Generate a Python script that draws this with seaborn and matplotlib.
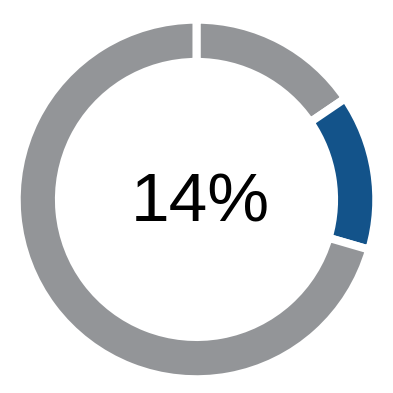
import matplotlib
matplotlib.use("Agg")
import matplotlib.pyplot as plt
import seaborn as sns

sns.set_theme(style="white")
plt.rcParams['font.family'] = ['Liberation Sans', 'DejaVu Sans']

labels = ["Other (before)", "Highlighted", "Other (after)"]
values = [15.5, 14, 70.5]
colors = ["#939598", "#13538a", "#939598"]
center_text = "14%"

fig = plt.figure(figsize=(3.93, 3.93), dpi=100)
ax = fig.add_axes([0, 0, 1, 1])
ax.pie(values, colors=colors, startangle=90, counterclock=False,
       radius=0.915,
       wedgeprops=dict(width=0.215, edgecolor="white", linewidth=5.8),
       center=(0.0, -0.015))
ax.set_xlim(-1, 1)
ax.set_ylim(-1, 1)
ax.set_aspect("equal")
ax.axis("off")
ax.text(0.02, -0.035, center_text, ha="center", va="center", fontsize=50, color="black")
fig.savefig("out.png", dpi=100)
